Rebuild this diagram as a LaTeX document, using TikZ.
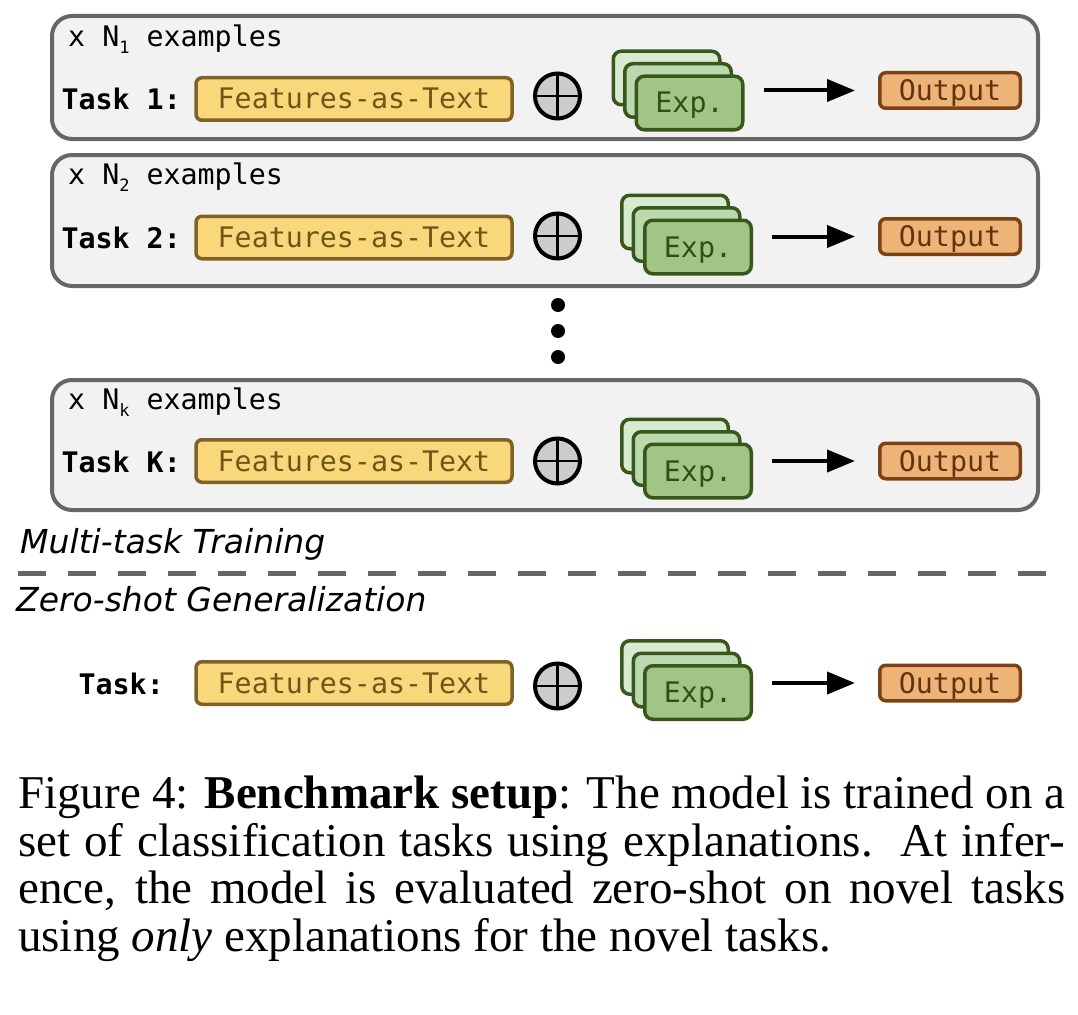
\documentclass[tikz,border=0pt]{standalone}
\usepackage{fontspec}
\setmainfont{Liberation Serif}
\newfontfamily\monof{DejaVu Sans Mono}
\newfontfamily\sansf{DejaVu Sans}
\usetikzlibrary{arrows.meta}
\definecolor{boxfill}{HTML}{F2F2F2}
\definecolor{boxdraw}{HTML}{666666}
\definecolor{featfill}{HTML}{F9D87C}
\definecolor{featdraw}{HTML}{7F6326}
\definecolor{feattext}{HTML}{705418}
\definecolor{plusfill}{HTML}{CCCCCC}
\definecolor{expback}{HTML}{D9EAD3}
\definecolor{expmid}{HTML}{BCD8AE}
\definecolor{expfront}{HTML}{A0C585}
\definecolor{expdraw}{HTML}{38571A}
\definecolor{exptext}{HTML}{2F4F17}
\definecolor{outfill}{HTML}{EEB477}
\definecolor{outdraw}{HTML}{7A4215}
\definecolor{outtext}{HTML}{5E3510}
\newcommand\monotxt{\monof\fontsize{28.3}{28.3}\selectfont}
\newcommand\subsc[1]{\raisebox{-7pt}{\fontsize{17}{17}\selectfont #1}}
\newcommand\capfont{\fontsize{47}{47}\selectfont}
\tikzset{
  taskbox/.style={draw=boxdraw, fill=boxfill, line width=4pt, rounded corners=20pt, minimum width=986pt},
  feat/.style={draw=featdraw, fill=featfill, line width=3.5pt, rounded corners=6pt, minimum width=316pt, minimum height=42.5pt, text=feattext, font=\monotxt, text height=20pt, text depth=0pt},
  plus/.style={circle, draw=black, fill=plusfill, line width=4pt, minimum size=45pt,
    path picture={\draw[line width=2.5pt] (path picture bounding box.north) -- (path picture bounding box.south) (path picture bounding box.west) -- (path picture bounding box.east);}},
  card/.style={draw=expdraw, line width=3.5pt, rounded corners=8pt, minimum width=106.5pt, minimum height=53.5pt},
  outbox/.style={draw=outdraw, fill=outfill, line width=3.5pt, rounded corners=6pt, minimum width=140.5pt, minimum height=35.5pt, text=outtext, font=\monotxt, text height=20pt, text depth=0pt},
  tasklbl/.style={anchor=base east, font=\monof\bfseries\fontsize{28.3}{28.3}\selectfont},
  exlbl/.style={anchor=base west, font=\monotxt},
  arr/.style={line width=4pt, -{Triangle[length=28pt,width=22pt]}},
  dotnode/.style={circle, fill=black, minimum size=14pt},
  seclbl/.style={anchor=base west, font=\sansf\itshape\fontsize{33}{33}\selectfont},
  capline/.style={anchor=base west, font=\capfont},
  sepline/.style={draw=boxdraw, line width=5pt, dash pattern=on 28pt off 22pt}
}
% #1 id, #2 label, #3 features y, #4 plus y, #5 front card x, #6 front card y, #7 output y, #8 label right x
\newcommand\taskrow[8]{%
  \node[feat] (f#1) at (354,#3) {Features-as-Text};
  \node[tasklbl] (t#1) at (#8,#3+11) {#2};
  \node[plus] (p#1) at (557.5,#4) {};
  \node[card,fill=expback] (eb#1) at (#5-23,#6-25) {};
  \node[card,fill=expmid] (em#1) at (#5-11.5,#6-12.5) {};
  \node[card,fill=expfront,text=exptext,font=\monotxt,text height=20pt,text depth=0pt] (ef#1) at (#5,#6) {Exp.};
  \node[outbox] (o#1) at (950,#7) {Output};
  \draw[arr, shorten <=19pt, shorten >=23pt] (ef#1.east |- o#1.west) -- (o#1.west);
}
\begin{document}
\begin{tikzpicture}[x=1pt,y=-1pt, every node/.style={inner sep=0pt}]
\useasboundingbox (0,0) rectangle (1078,1014);
% task containers
\node[taskbox, minimum height=123pt] (b1) at (545,77.5) {};
\node[taskbox, minimum height=131pt] (b2) at (545,220.5) {};
\node[taskbox, minimum height=130pt] (bk) at (545,445) {};
\node[exlbl] (x1) at (68,47) {x N\subsc{1} examples};
\node[exlbl] (x2) at (68,184) {x N\subsc{2} examples};
\node[exlbl] (xk) at (68,409) {x N\subsc{k} examples};
\taskrow{1}{Task 1:}{99}{96}{689.5}{103}{90.5}{181}
\taskrow{2}{Task 2:}{237.5}{236}{698}{247}{236.5}{181}
\taskrow{k}{Task K:}{461}{461}{698}{471}{461}{181}
% dots
\node[dotnode] (d1) at (558,305) {};
\node[dotnode] (d2) at (558,331) {};
\node[dotnode] (d3) at (558,357) {};
% section labels and separator
\node[seclbl] (mt) at (20,553) {Multi-task Training};
\coordinate (sl) at (18,573);
\coordinate (sr) at (1062,573);
\draw[sepline] (sl) -- (sr);
\node[seclbl] (zs) at (16,611) {Zero-shot Generalization};
\taskrow{z}{Task:}{683}{686}{698}{692.5}{683}{164}
% caption
\node[capline] (c1) at (18,808) {\makebox[1047pt][s]{Figure 4: \textbf{Benchmark setup}: The model is trained on a}};
\node[capline] (c2) at (18,856) {\makebox[1047pt][s]{set of classification tasks using explanations.\ \ At infer-}};
\node[capline] (c3) at (18,903) {\makebox[1047pt][s]{ence, the model is evaluated zero-shot on novel tasks}};
\node[capline] (c4) at (18,951) {using \textit{only} explanations for the novel tasks.};
\end{tikzpicture}
\end{document}
